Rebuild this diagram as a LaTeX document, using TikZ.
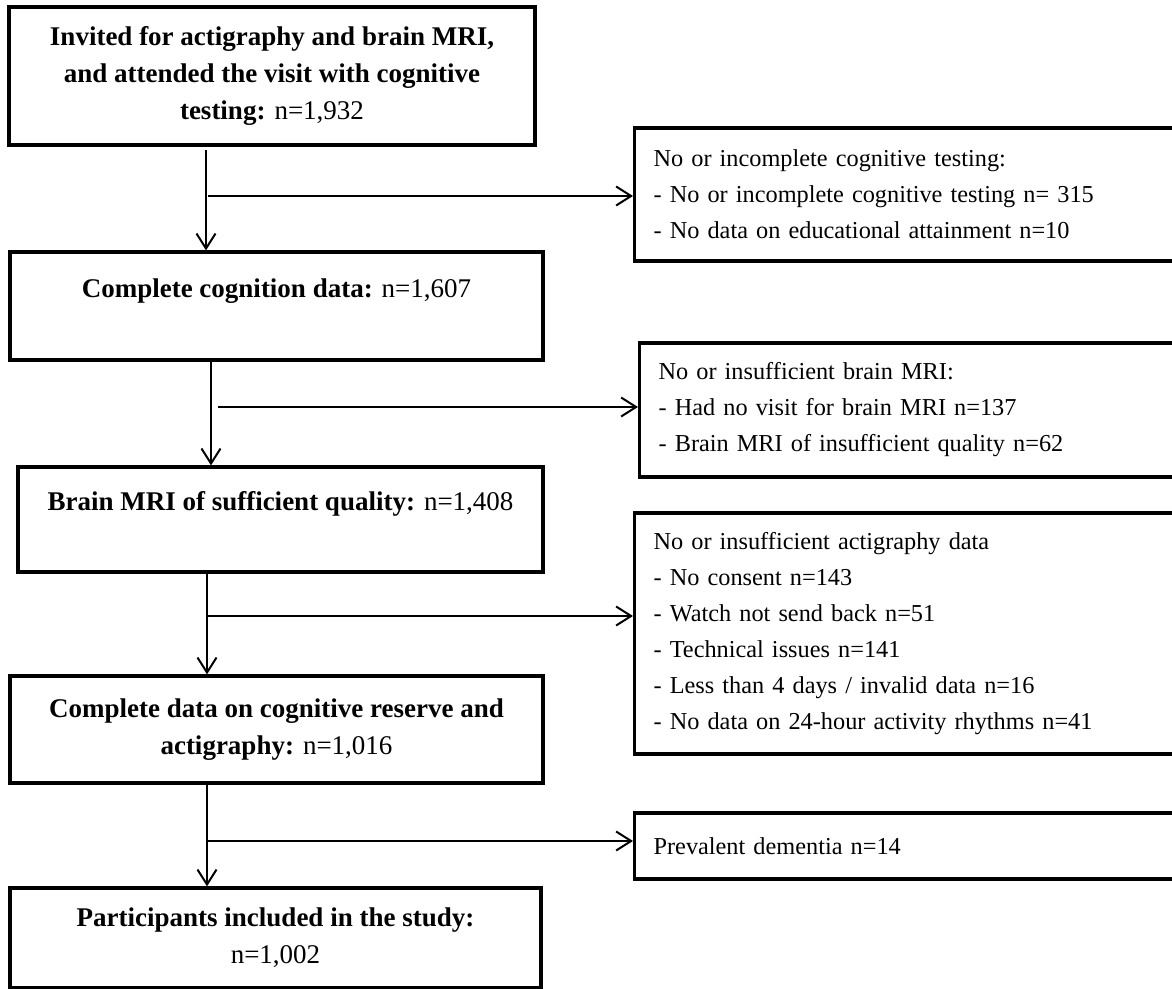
\documentclass[tikz,border=0pt]{standalone}
\usepackage{fontspec}
\setmainfont{Liberation Serif}
\usepackage{tikz}
\usetikzlibrary{
	arrows.meta,
	positioning
}

\begin{document}
\begin{tikzpicture}[x=1pt, y=-1pt,
		mainbox/.style={draw, line width=3.2pt, align=center, inner sep=0pt, font=\fontsize{27}{36.7}\selectfont},
		sidebox/.style={draw, line width=3.2pt, anchor=west, align=left, text width=520pt, inner xsep=19pt, inner ysep=0pt, font=\fontsize{24.3}{36}\selectfont},
		flow/.style={line width=2pt, -{Straight Barb[length=15pt, width=19pt]}}]
			\clip (0,0) rectangle (1172,988);
			% 主流程
			\node[mainbox, minimum width=526pt, minimum height=138pt] (S1) at (272,76) {\textbf{Invited for actigraphy and brain MRI,}\\\textbf{and attended the visit with cognitive}\\\textbf{testing:} n=1,932};
			\node[mainbox, minimum width=533pt, minimum height=108pt] (S2) at (276.5,306) {\textbf{Complete cognition data:} n=1,607\\\mbox{}};
			\node[mainbox, minimum width=525pt, minimum height=105pt] (S3) at (280.5,519.5) {\textbf{Brain MRI of sufficient quality:} n=1,408\\\mbox{}};
			\node[mainbox, minimum width=533pt, minimum height=107pt] (S4) at (276.5,729.5) {\textbf{Complete data on cognitive reserve and}\\\textbf{actigraphy:} n=1,016};
			\node[mainbox, minimum width=531pt, minimum height=100pt] (S5) at (275.5,938) {\textbf{Participants included in the study:}\\n=1,002};
			% 排除
			\node[sidebox, minimum height=133pt] (E1) at (633,194.5) {No or incomplete cognitive testing:\\- No or incomplete cognitive testing n= 315\\- No data on educational attainment n=10};
			\node[sidebox, minimum height=134pt] (E2) at (638,410) {No or insufficient brain MRI:\\- Had no visit for brain MRI n=137\\- Brain MRI of insufficient quality n=62};
			\node[sidebox, minimum height=241pt] (E3) at (633,633.5) {No or insufficient actigraphy data\\- No consent n=143\\- Watch not send back n=51\\- Technical issues n=141\\- Less than 4 days / invalid data n=16\\- No data on 24-hour activity rhythms n=41};
			\node[sidebox, minimum height=66pt] (E4) at (633,846) {Prevalent dementia n=14};
			% 箭头
			\coordinate (A1) at (206,150);
			\coordinate (B1) at (208,196);
			\coordinate (A2) at (211,360);
			\coordinate (B2) at (218,407);
			\coordinate (A3) at (207,572);
			\coordinate (B3) at (207,616);
			\coordinate (A4) at (207,783);
			\coordinate (B4) at (207,841);
			\draw[flow] (A1) -- (A1 |- S2.north);
			\draw[flow] (B1) -- (B1 -| E1.west);
			\draw[flow] (A2) -- (A2 |- S3.north);
			\draw[flow] (B2) -- (B2 -| E2.west);
			\draw[flow] (A3) -- (A3 |- S4.north);
			\draw[flow] (B3) -- (B3 -| E3.west);
			\draw[flow] (A4) -- (A4 |- S5.north);
			\draw[flow] (B4) -- (B4 -| E4.west);
		\end{tikzpicture}
\end{document}
